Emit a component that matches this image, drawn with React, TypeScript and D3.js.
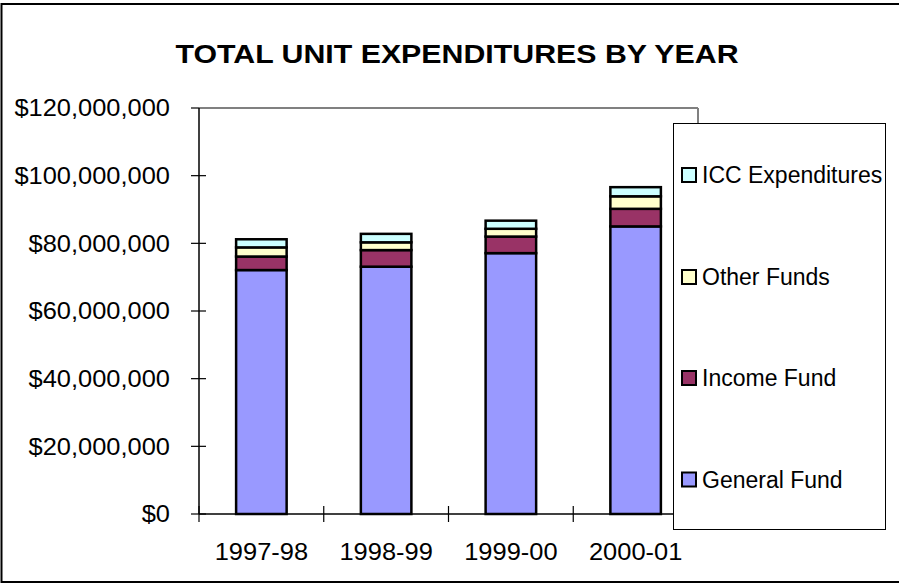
import React from "react";
import * as d3 from "d3";

const categories = ["1997-98", "1998-99", "1999-00", "2000-01"];
const seriesNames = ["General Fund", "Income Fund", "Other Funds", "ICC Expenditures"];
const generalFund = [72100000, 73100000, 77100000, 85000000];
const incomeFund = [4000000, 4900000, 4900000, 5200000];
const otherFunds = [2700000, 2300000, 2300000, 3700000];
const iccExpenditures = [2400000, 2500000, 2400000, 2700000];
const yTicks = [0, 20000000, 40000000, 60000000, 80000000, 100000000, 120000000];
const colors = ["#9999FF", "#993366", "#FFFFCC", "#CCFFFF"];

const W = 899, H = 584;
const left = 199, right = 698, top = 108, bottom = 514;

export default function App() {
  const x = d3.scaleBand().domain(categories).range([left, right]).paddingInner(0.595).paddingOuter(0.2975);
  const y = d3.scaleLinear().domain([0, 120000000]).range([bottom, top]);
  const rows = categories.map((c, i) => ({
    cat: c,
    "General Fund": generalFund[i],
    "Income Fund": incomeFund[i],
    "Other Funds": otherFunds[i],
    "ICC Expenditures": iccExpenditures[i],
  }));
  const stack = d3.stack<any>().keys(seriesNames)(rows);
  const fmt = (v: number) => "$" + d3.format(",")(v);
  const step = x.step();
  const font = "Arial, 'Liberation Sans', sans-serif";
  const legendY = [479.5, 378, 277, 175];
  const sx = 1.06;
  return (
    <svg width={W} height={H} style={{ position: "absolute", left: 0, top: 0 }}>
      <rect x={1.5} y={4} width={W + 10} height={578} fill="#fff" stroke="#000" strokeWidth={2} />
      <g transform="translate(457,63) scale(1.166,1)">
        <text x={0} y={0} textAnchor="middle" fontFamily={font} fontWeight="bold" fontSize={26}>
          TOTAL UNIT EXPENDITURES BY YEAR
        </text>
      </g>
      {/* plot border */}
      <line x1={left} x2={right} y1={top} y2={top} stroke="#808080" strokeWidth={2} />
      <line x1={right} x2={right} y1={top} y2={bottom} stroke="#808080" strokeWidth={2} />
      {/* bars */}
      {stack.map((s, si) =>
        s.map((d, i) => (
          <rect
            key={si + "-" + i}
            x={x(categories[i])!}
            y={y(d[1])}
            width={x.bandwidth()}
            height={y(d[0]) - y(d[1])}
            fill={colors[si]}
            stroke="#000"
            strokeWidth={2.5}
          />
        ))
      )}
      {/* y axis */}
      <line x1={left} x2={left} y1={top} y2={bottom} stroke="#000" strokeWidth={1.5} />
      {yTicks.map((t) => (
        <g key={t}>
          <line x1={left - 8} x2={t === 120000000 ? left : left + 7} y1={y(t)} y2={y(t)} stroke="#000" strokeWidth={1.2} />
          <g transform={`translate(170,${y(t)}) scale(${sx},1)`}>
            <text x={0} y={0} dy="0.35em" textAnchor="end" fontFamily={font} fontSize={24}>
              {fmt(t)}
            </text>
          </g>
        </g>
      ))}
      {/* x axis */}
      <line x1={left} x2={right} y1={bottom} y2={bottom} stroke="#000" strokeWidth={1.5} />
      {d3.range(categories.length + 1).map((i) => (
        <line key={i} x1={left + i * step} x2={left + i * step} y1={bottom - 8} y2={bottom + 8} stroke="#000" strokeWidth={1.2} />
      ))}
      {categories.map((c) => (
        <g key={c} transform={`translate(${x(c)! + x.bandwidth() / 2},560) scale(${sx},1)`}>
          <text x={0} y={0} textAnchor="middle" fontFamily={font} fontSize={24}>
            {c}
          </text>
        </g>
      ))}
      {/* legend */}
      <rect x={673.5} y={123.5} width={212} height={406} fill="#fff" stroke="#000" strokeWidth={1} />
      {seriesNames.map((n, i) => (
        <g key={n}>
          <rect x={682} y={legendY[i] - 7} width={14} height={14} fill={colors[i]} stroke="#000" strokeWidth={2} />
          <text x={702} y={legendY[i]} dy="0.35em" fontFamily={font} fontSize={23}>
            {n}
          </text>
        </g>
      ))}
    </svg>
  );
}
